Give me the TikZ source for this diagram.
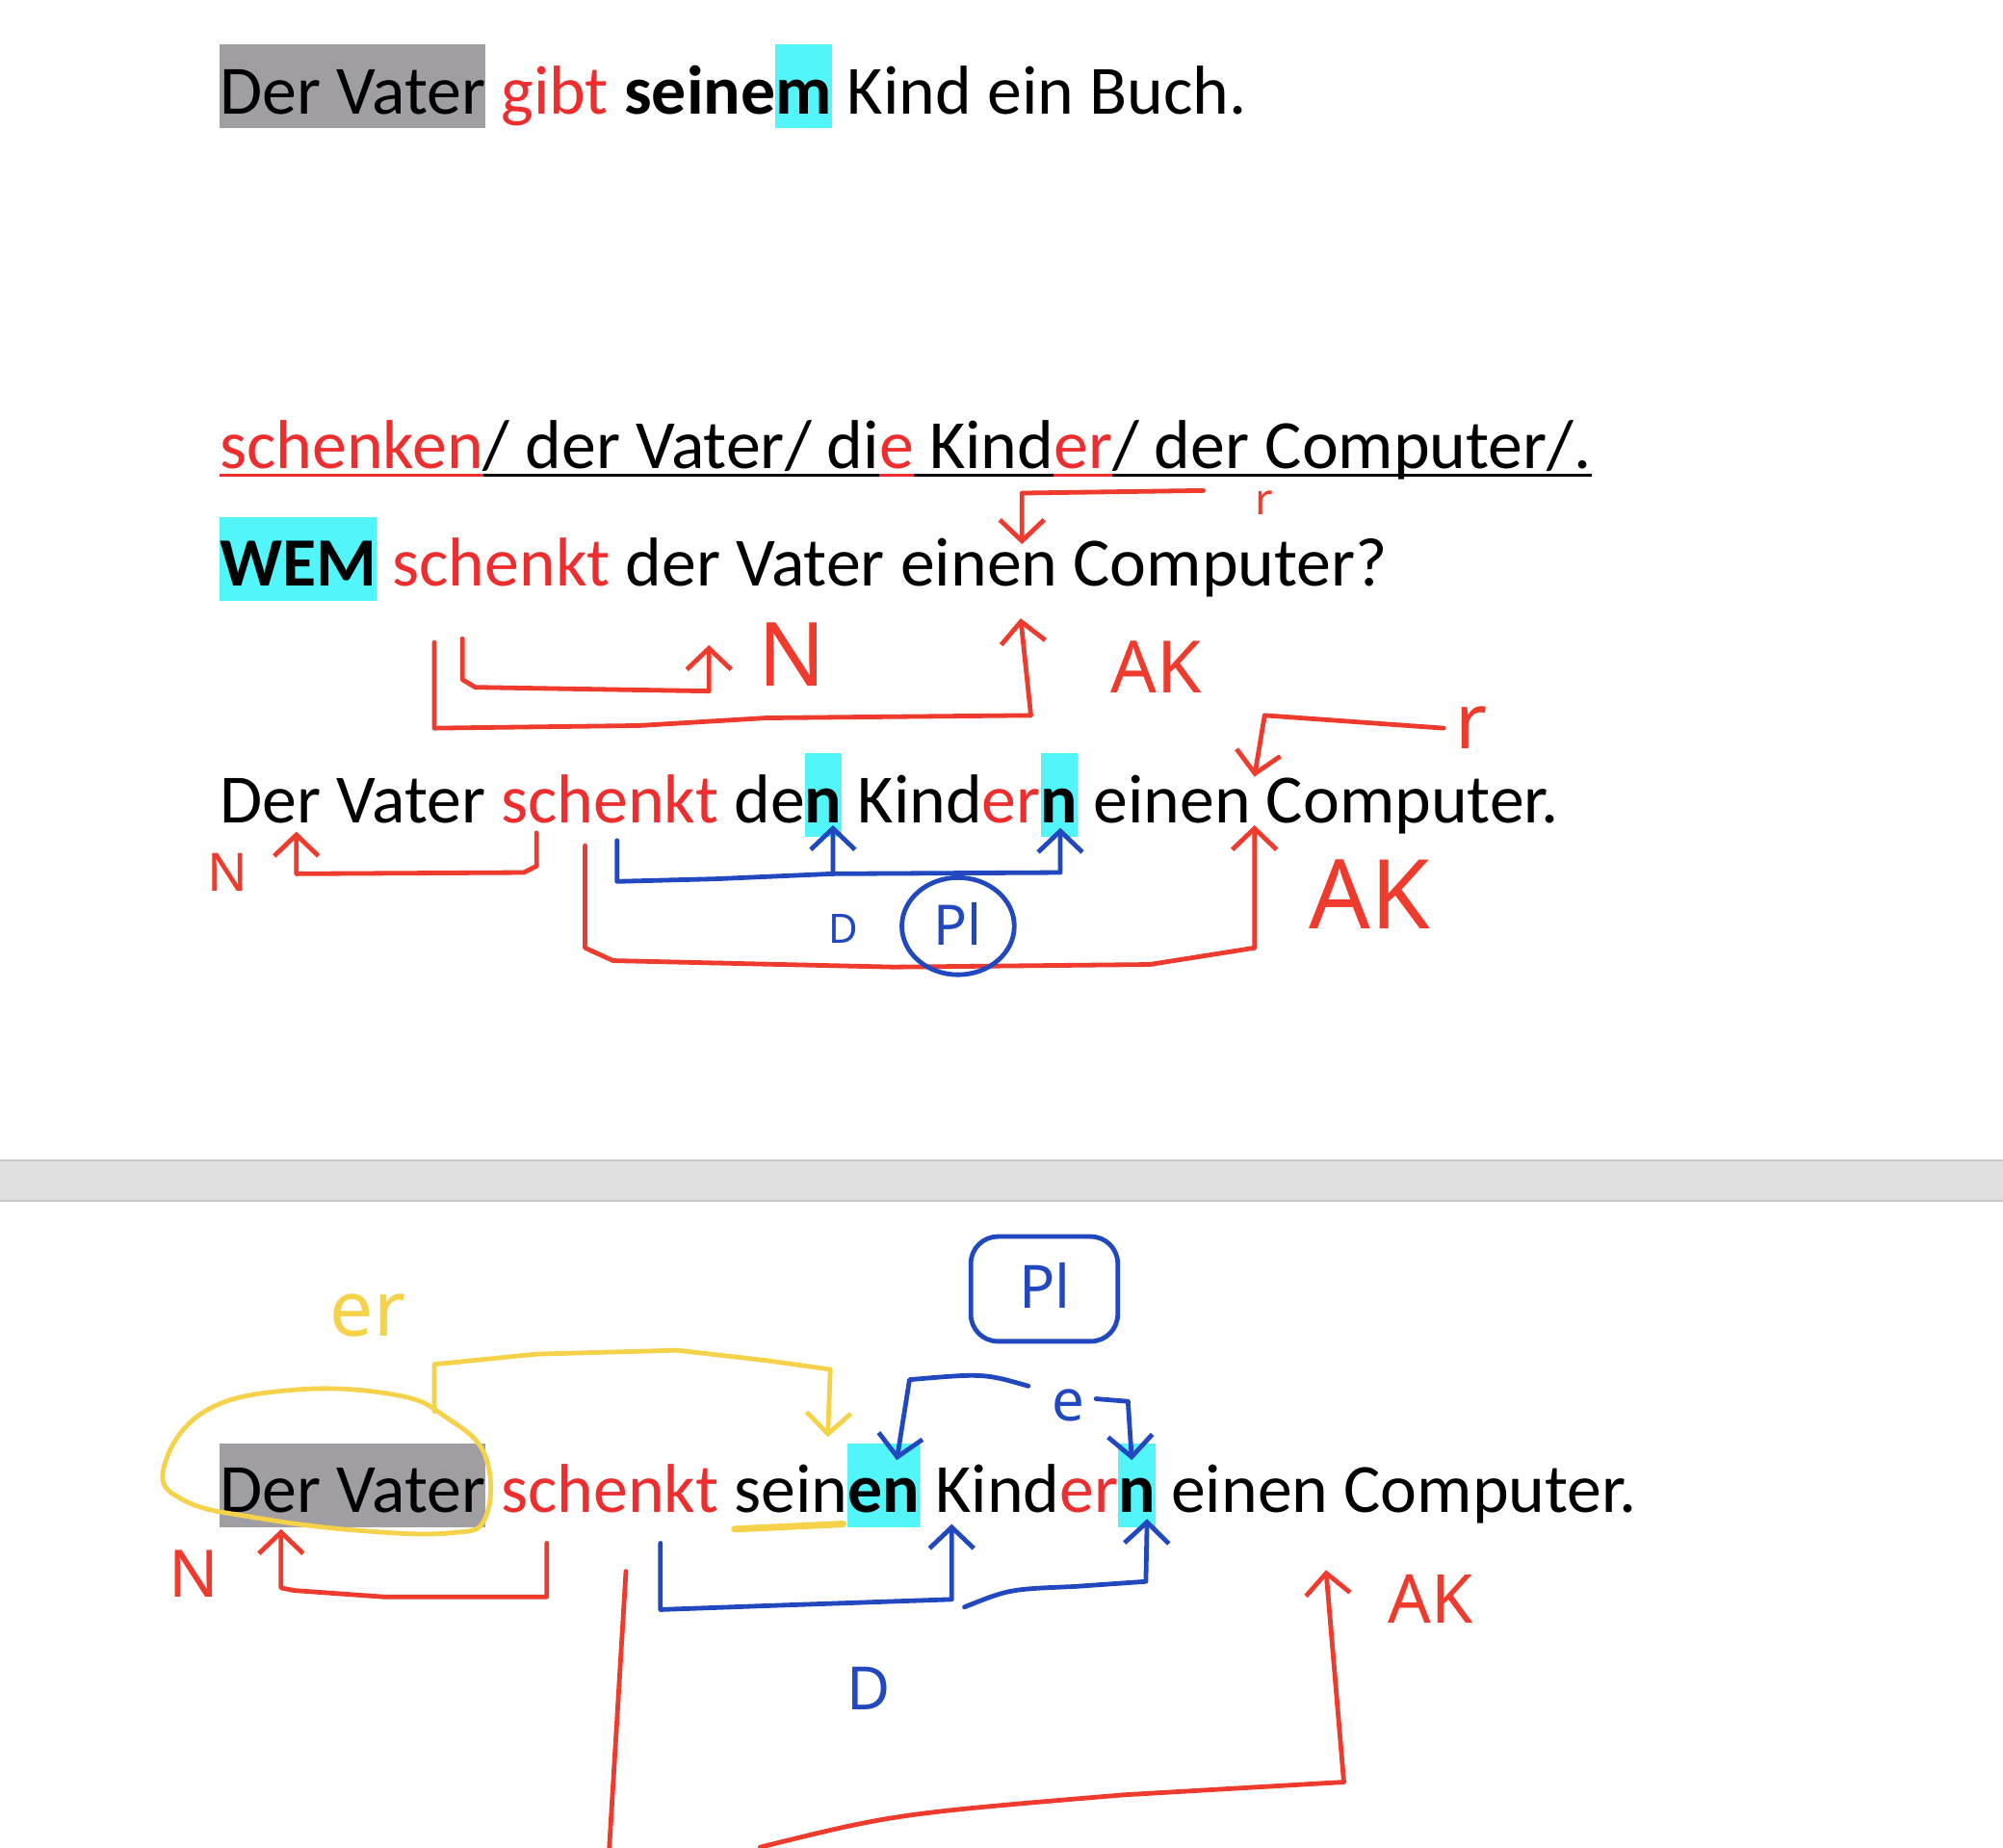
\documentclass[tikz,border=0pt]{standalone}
\usepackage{fontspec}
\setmainfont{Carlito}
\newfontfamily\handfont{Noto Sans}
\usetikzlibrary{arrows.meta}
\definecolor{hlgray}{HTML}{A09EA3}
\definecolor{hlcyan}{HTML}{52F5FA}
\definecolor{txtred}{HTML}{EE2E2E}
\definecolor{penred}{HTML}{EE3B2E}
\definecolor{penblue}{HTML}{2248C0}
\definecolor{penyellow}{HTML}{F5D24A}
\definecolor{sepgray}{HTML}{E0E0E0}
\definecolor{sepline}{HTML}{C8C8C8}
\newcommand\hlb[2]{{\setlength{\fboxsep}{0pt}\colorbox{#1}{\rule[-15pt]{0pt}{87pt}#2}}}
\newcommand\mul[1]{\setbox0=\hbox{#1}\rlap{\rule[-8pt]{\wd0}{2.5pt}}\box0}
\newcommand\rd[1]{{\color{txtred}#1}}
\tikzset{
  txt/.style={anchor=base west, inner sep=0pt, font=\fontsize{71.8}{86}\selectfont},
  pen/.style={line width=4.8pt, line cap=round, line join=round},
  tip/.style={-{Straight Barb[length=22pt,width=46pt,line width=4.8pt]}},
  hand/.style={inner sep=0pt, font=\handfont\fontsize{#1}{#1}\selectfont},
}
\begin{document}
\begin{tikzpicture}[x=1.3265pt, y=-1.3265pt]
\useasboundingbox (0,0) rectangle (1568,1446);
\fill[white] (0,0) rectangle (1568,1446);

% page separator
\fill[sepgray] (0,908) rectangle (1568,940);
\draw[sepline, line width=2pt] (0,908) -- (1568,908);
\draw[sepline, line width=2pt] (0,940) -- (1568,940);

% text lines
\node[txt] (l1) at (172,89) {\hlb{hlgray}{Der Vater} \rd{gibt} \textbf{seine\hlb{hlcyan}{m}} Kind ein Buch.};
\node[txt] (l2) at (172,367) {\rd{\mul{schenken}}\mul{/ der Vater/ di}\rd{\mul{e}}\mul{ Kind}\rd{\mul{er}}\mul{/ der Computer/.}};
\node[txt] (l3) at (172,459) {\hlb{hlcyan}{\textbf{WEM}} \rd{schenkt} der Vater einen Computer?};
\node[txt] (l4) at (172,644) {Der Vater \rd{schenkt} de\hlb{hlcyan}{\textbf{n}} Kind\rd{er}\hlb{hlcyan}{\textbf{n}} einen Computer.};
\node[txt] (l5) at (172,1184) {\hlb{hlgray}{Der Vater} \rd{schenkt} sein\hlb{hlcyan}{\textbf{en}} Kind\rd{er}\hlb{hlcyan}{\textbf{n}} einen Computer.};

% ---- annotations section 1 ----
\coordinate (a1) at (800,426);
\draw[pen, penred, tip] (942,384) -- (800,386) -- (a1);
\node[hand=45, text=penred] (r1) at (990,394) {r};

\coordinate (a2) at (555,505);
\draw[pen, penred, tip] (362,500) -- (362,532) -- (372,538) -- (555,541) -- (a2);
\node[hand=92, text=penred] (n1) at (620,512) {N};
\coordinate (a3) at (799,484);
\draw[pen, penred, tip] (340,503) -- (340,570) -- (500,568) -- (600,562) -- (807,560) -- (a3);
\node[hand=75, text=penred] (ak1) at (905,522) {AK};

\coordinate (a4) at (982,608);
\draw[pen, penred, tip] (1130,570) -- (990,560) -- (a4);
\node[hand=80, text=penred] (r2) at (1152,570) {r};

% ---- annotations line 4 ----
\node[hand=55, text=penred] (n2) at (178,683) {N};
\coordinate (a5) at (232,651);
\draw[pen, penred, tip] (420,652) -- (420,678) -- (410,683) -- (232,684) -- (a5);
\coordinate (a6) at (652,646);
\coordinate (a7) at (830,648);
\draw[pen, penblue, tip] (483,658) -- (483,690) -- (560,688) -- (652,684) -- (a6);
\draw[pen, penblue, tip] (652,684) -- (830,683) -- (a7);
\coordinate (a8) at (982,646);
\draw[pen, penred, tip] (458,662) -- (458,742) -- (480,752) -- (700,757) -- (900,755) -- (982,742) -- (a8);
\node[hand=100, text=penred] (ak2) at (1072,700) {AK};
\node[hand=42, text=penblue] (d1) at (660,727) {D};
\node[hand=58, text=penblue] (pl1) at (750,723) {Pl};
\draw[pen, penblue] (750,725) ellipse[x radius=44, y radius=38];

% ---- bottom section ----
\node[hand=62, text=penblue] (pl2) at (818,1006) {Pl};
\draw[pen, penblue, rounded corners=28pt] (760,968) rectangle (875,1050);
\node[hand=80, text=penyellow] (er1) at (288,1030) {er};
\draw[pen, penyellow] plot[smooth cycle, tension=0.7] coordinates {(128,1150) (160,1105) (230,1088) (310,1092) (350,1110) (380,1140) (380,1188) (352,1200) (280,1198) (200,1188) (145,1175)};
\coordinate (a9) at (648,1125);
\draw[pen, penyellow, tip] (340,1105) -- (340,1068) -- (420,1060) -- (530,1057) -- (600,1065) -- (650,1072) -- (a9);
\draw[penyellow, line width=7pt, line cap=round] (575,1197) -- (660,1193);

\coordinate (a10) at (702,1143);
\draw[pen, penblue, tip] (805,1085) .. controls (770,1075) .. (712,1080) -- (a10);
\node[hand=60, text=penblue] (e1) at (836,1100) {e};
\coordinate (a11) at (886,1143);
\draw[pen, penblue, tip] (858,1095) -- (883,1097) -- (a11);

\node[hand=68, text=penred] (n3) at (152,1232) {N};
\coordinate (a12) at (220,1197);
\draw[pen, penred, tip] (428,1208) -- (428,1250) -- (300,1250) -- (230,1245) -- (220,1243) -- (a12);
\coordinate (a13) at (745,1193);
\draw[pen, penblue, tip] (517,1208) -- (517,1260) -- (600,1257) -- (745,1252) -- (a13);
\coordinate (a14) at (898,1189);
\draw[pen, penblue, tip] (755,1258) .. controls (790,1244) .. (840,1242) -- (897,1238) -- (a14);
\node[hand=62, text=penblue] (d2) at (680,1322) {D};

\draw[pen, penred] (490,1230) -- (477,1446);
\coordinate (a15) at (1038,1229);
\draw[pen, penred, tip] (595,1446) .. controls (700,1420) .. (880,1405) -- (1052,1395) -- (a15);
\node[hand=70, text=penred] (ak3) at (1120,1252) {AK};
\end{tikzpicture}
\end{document}
